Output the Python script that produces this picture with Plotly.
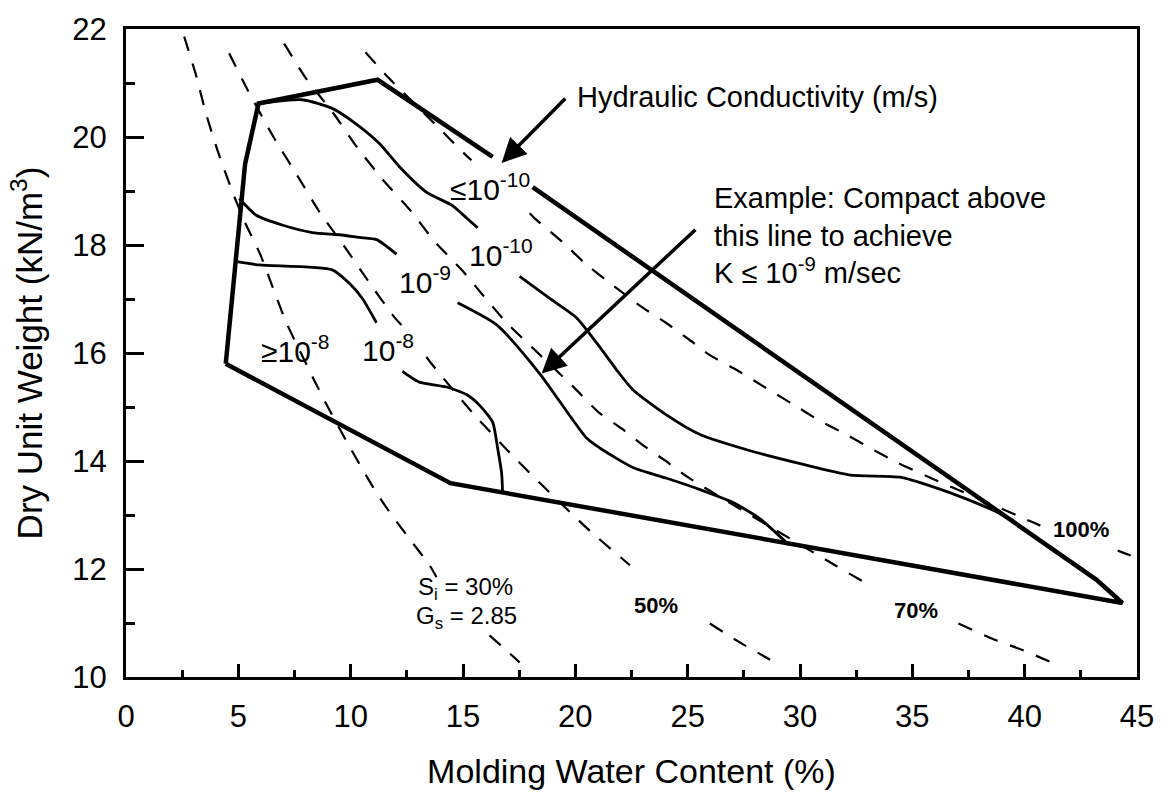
import plotly.graph_objects as go

# ---- Outer boundary of the compaction zone (thick line) ----
bound_x = [4.44, 5.30, 5.90, 11.20, 16.32, None, 18.10, 43.20, 44.35, 14.44, 4.44]
bound_y = [15.80, 19.50, 20.62, 21.06, 19.63, None, 19.07, 11.80, 11.37, 13.59, 15.80]

# ---- Hydraulic conductivity contours (thin solid lines) ----
k10_x = [5.88, 7.85, 9.18, 10.25, 11.28, 12.17, 13.37, 14.53, 15.16, 15.65, None,
         17.52, 18.86, 20.06, 21.09, 21.85, 22.56, 24.07, 25.55, 27.78, 30.01, 32.23,
         34.46, 35.93, 37.45, 38.79, 39.50]
k10_y = [20.62, 20.69, 20.53, 20.24, 19.88, 19.45, 18.98, 18.73, 18.50, 18.32, None,
         17.42, 17.01, 16.65, 16.11, 15.68, 15.32, 14.85, 14.49, 14.19, 13.95, 13.74,
         13.70, 13.52, 13.29, 13.05, 12.89]

k9_x = [5.04, 5.80, 6.95, 8.29, 9.50, 10.39, 11.15, 12.04, None,
        14.76, 16.50, 18.41, 20.51, 21.09, 22.56, 24.07, 25.55, 27.02, 28.22, 29.42]
k9_y = [18.86, 18.55, 18.37, 18.23, 18.19, 18.14, 18.10, 17.83, None,
        16.93, 16.52, 15.62, 14.42, 14.24, 13.88, 13.68, 13.47, 13.23, 12.93, 12.48]

k8_x = [4.95, 5.93, 9.18, 9.94, 10.52, 11.15, None,
        12.30, 13.06, 14.27, 15.16, 15.74, 16.32, 16.54, 16.72, 16.76]
k8_y = [17.69, 17.63, 17.54, 17.29, 17.01, 16.56, None,
        15.66, 15.46, 15.37, 15.23, 15.03, 14.72, 14.24, 13.77, 13.43]

# ---- Degree-of-saturation curves (dashed) ----
s30_x = [2.59, 3.12, 3.57, 4.10, 4.77, 5.35, 5.97, 6.51, 7.13, 8.29, 8.92, 9.81,
         10.48, 11.15, 11.86, 12.71, 13.51, 13.82, None, 16.18, 16.94, 17.52]
s30_y = [21.86, 21.14, 20.42, 19.72, 18.95, 18.37, 17.83, 17.24, 16.57, 15.57, 15.05, 14.37,
         13.88, 13.41, 12.98, 12.51, 12.07, 11.85, None, 10.77, 10.49, 10.27]

s50_x = [4.59, 5.39, 6.55, 7.62, 8.60, 9.81, 10.70, 11.95, 12.26, None, 13.37, 13.60,
         15.43, 17.25, 18.55, 20.64, 22.43, None, 25.99, 27.28, 28.67]
s50_y = [21.55, 20.89, 20.01, 19.29, 18.62, 17.92, 17.38, 16.66, 16.52, None, 15.93, 15.80,
         14.89, 14.08, 13.54, 12.71, 12.07, None, 10.99, 10.65, 10.32]

s70_x = [7.04, 8.02, 9.23, 10.25, 11.41, 12.66, 13.73, 14.94, 15.87, 16.94, 18.06, 19.97,
         21.04, 22.07, 23.05, 23.99, 25.01, 31.56, 33.21, None, 37.05, 38.61, 39.90, 41.60]
s70_y = [21.73, 21.08, 20.44, 19.83, 19.22, 18.64, 18.07, 17.54, 17.08, 16.56, 16.11, 15.35,
         14.90, 14.60, 14.28, 14.01, 13.70, 12.07, 11.67, None, 10.99, 10.70, 10.50, 10.20]

s100_x = [10.66, 11.59, 13.87, 15.16, 15.38, None, 17.97, 18.23, 19.44, 20.46, 21.62, 23.00,
          24.03, 25.06, 25.99, 27.20, 28.49, 29.69, 30.90, 32.06, 33.12, 34.33, 36.02,
          40.39, 40.70, None, 44.14, 44.72]
s100_y = [21.57, 21.14, 20.19, 19.65, 19.57, None, 18.59, 18.48, 18.05, 17.65, 17.27, 16.84,
          16.56, 16.25, 15.96, 15.68, 15.35, 15.05, 14.74, 14.49, 14.24, 13.97, 13.65,
          12.86, 12.80, None, 12.34, 12.25]

x_ticks = [0, 5, 10, 15, 20, 25, 30, 35, 40, 45]
y_ticks = [10, 12, 14, 16, 18, 20, 22]

FONT = "Liberation Sans, Arial, Helvetica, sans-serif"
DASH = "15px,13px"

fig = go.Figure()

for xs, ys in [(s30_x, s30_y), (s50_x, s50_y), (s70_x, s70_y), (s100_x, s100_y)]:
    fig.add_trace(go.Scatter(x=xs, y=ys, mode="lines",
                             line=dict(color="black", width=2.2, dash=DASH,
                                       shape="spline", smoothing=0.6),
                             hoverinfo="skip"))

for xs, ys in [(k10_x, k10_y), (k9_x, k9_y), (k8_x, k8_y)]:
    fig.add_trace(go.Scatter(x=xs, y=ys, mode="lines",
                             line=dict(color="black", width=2.8,
                                       shape="spline", smoothing=0.6),
                             hoverinfo="skip"))

fig.add_trace(go.Scatter(x=bound_x, y=bound_y, mode="lines",
                         line=dict(color="black", width=4.5),
                         hoverinfo="skip"))


def label(x, y, text, size=30, xanchor="left", bold=False):
    if bold:
        text = "<b>" + text + "</b>"
    fig.add_annotation(x=x, y=y, xref="x", yref="y", text=text, showarrow=False,
                       xanchor=xanchor, yanchor="middle",
                       font=dict(family=FONT, size=size, color="black"))


# region labels
label(14.31, 19.07, "≤10<sup>-10</sup>")
label(15.20, 17.85, "10<sup>-10</sup>")
label(12.04, 17.36, "10<sup>-9</sup>")
label(5.93, 16.07, "≥10<sup>-8</sup>")
label(10.40, 16.09, "10<sup>-8</sup>")

# saturation labels
label(42.49, 12.73, "100%", size=22, xanchor="center", bold=True)
label(35.18, 11.24, "70%", size=22, xanchor="center", bold=True)
label(23.58, 11.33, "50%", size=22, xanchor="center", bold=True)
label(12.93, 11.63, "S<sub>i</sub> = 30%", size=24)
label(12.84, 11.10, "G<sub>s</sub> = 2.85", size=24)

# callouts
label(19.97, 20.74, "Hydraulic Conductivity (m/s)", size=29)
fig.add_annotation(x=26.08, y=18.18, xref="x", yref="y",
                   text="Example: Compact above<br>this line to achieve<br>K ≤ 10<sup>-9</sup> m/sec",
                   showarrow=False, xanchor="left", yanchor="middle", align="left",
                   font=dict(family=FONT, size=29, color="black"))

# arrows
for tip, tail in [((16.72, 19.52), (19.62, 20.74)), ((18.50, 15.62), (25.41, 18.31))]:
    fig.add_annotation(x=tip[0], y=tip[1], ax=tail[0], ay=tail[1],
                       xref="x", yref="y", axref="x", ayref="y",
                       text="", showarrow=True, arrowhead=2, arrowsize=1.4,
                       arrowwidth=3.5, arrowcolor="black")

axis_common = dict(showgrid=False, zeroline=False, showline=True, linecolor="black",
                   linewidth=3, mirror=True, ticks="inside", tickcolor="black",
                   tickwidth=2.5, ticklabelstandoff=10,
                   tickfont=dict(family=FONT, size=31, color="black"))

fig.update_xaxes(range=[0, 45], tickvals=x_ticks, ticklen=13,
                 minor=dict(dtick=2.5, ticklen=7, ticks="inside", tickcolor="black", tickwidth=2.5),
                 title=dict(text="Molding Water Content (%)", standoff=26,
                            font=dict(family=FONT, size=34, color="black")),
                 **axis_common)
fig.update_yaxes(range=[10, 22], tickvals=y_ticks, ticklen=18,
                 minor=dict(dtick=1, ticklen=9, ticks="inside", tickcolor="black", tickwidth=2.5),
                 title=dict(text="Dry Unit Weight (kN/m<sup>3</sup>)", standoff=20,
                            font=dict(family=FONT, size=35, color="black")),
                 **axis_common)

fig.update_layout(width=1171, height=796, showlegend=False,
                  paper_bgcolor="white", plot_bgcolor="white",
                  margin=dict(l=126, r=34, t=25, b=103))

fig.write_html("out.html")
